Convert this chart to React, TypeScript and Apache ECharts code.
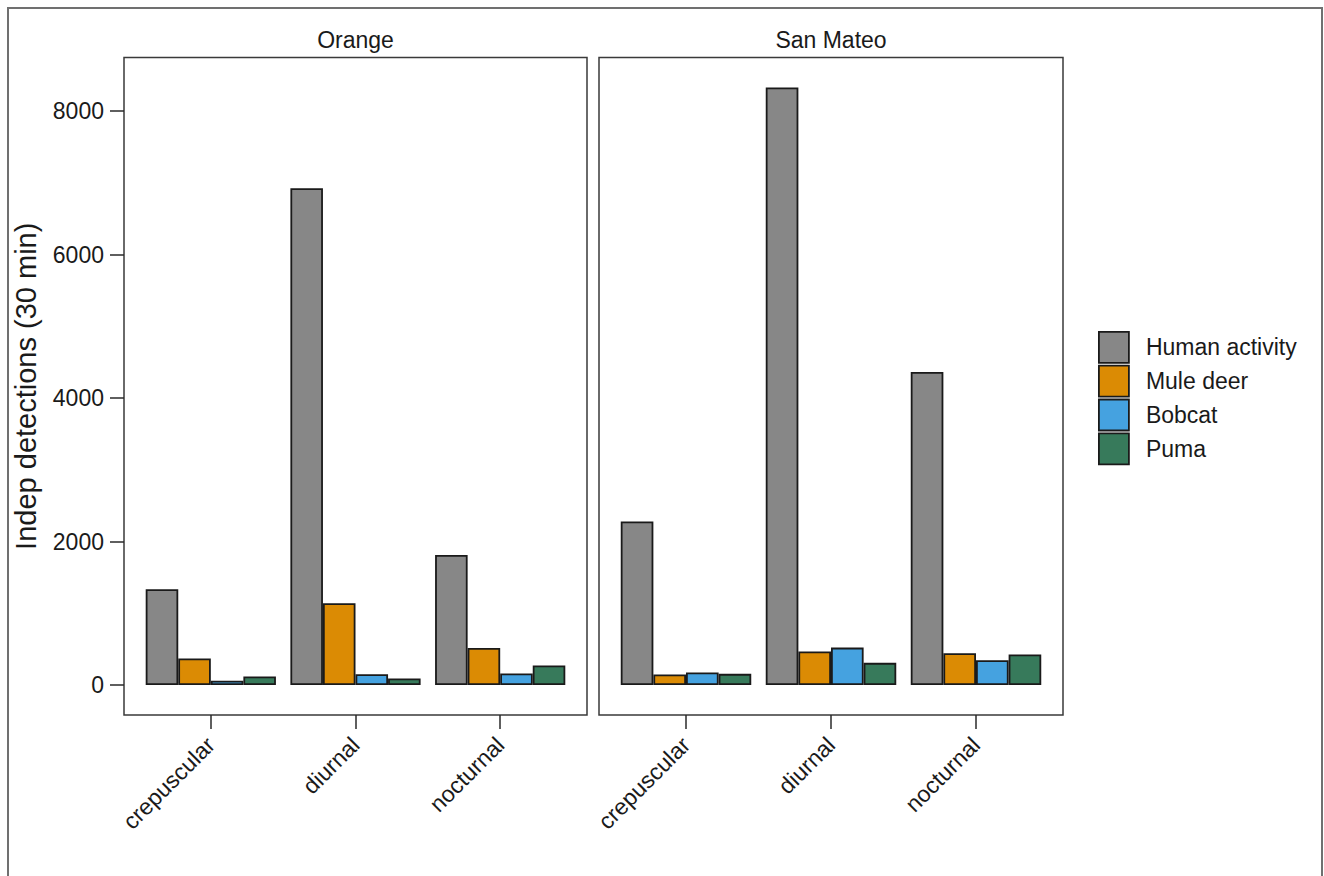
import React, { useEffect, useRef } from "react";
import * as echarts from "echarts";

const categories = ["crepuscular", "diurnal", "nocturnal"];
const species = ["Human activity", "Mule deer", "Bobcat", "Puma"];
const counties = ["Orange", "San Mateo"];
const speciesColors = ["#878787", "#DB8B04", "#45A2E0", "#377A5B"];

const orangeHuman = [1336, 6925, 1815];
const orangeMuleDeer = [371, 1140, 518];
const orangeBobcat = [60, 153, 162];
const orangePuma = [121, 93, 273];

const sanMateoHuman = [2280, 8330, 4365];
const sanMateoMuleDeer = [148, 468, 444];
const sanMateoBobcat = [176, 523, 347];
const sanMateoPuma = [157, 310, 426];

const yTicks = [0, 2000, 4000, 6000, 8000];
const yTitle = "Indep detections (30 min)";

const countyValues = [
  [orangeHuman, orangeMuleDeer, orangeBobcat, orangePuma],
  [sanMateoHuman, sanMateoMuleDeer, sanMateoBobcat, sanMateoPuma],
];

const FONT = "'Liberation Sans', Arial, Helvetica, sans-serif";
const INK = "#1a1a1a";

export default function App() {
  const ref = useRef<HTMLDivElement>(null);

  useEffect(() => {
    if (!ref.current) return;
    const chart = echarts.init(ref.current, undefined, { renderer: "svg" });

    const allVals = countyValues.flat(2);
    const dataMax = Math.max(...allVals);
    const yMin = -0.05 * dataMax;
    const yMax = 1.05 * dataMax;
    const n = categories.length;
    const xMin = 1 - 0.6;
    const xMax = n + 0.6;
    const xPos = categories.map((_, i) => i + 1);

    const panels = [
      { left: 124, width: 463 },
      { left: 599, width: 464 },
    ];
    const top = 57.5;
    const height = 657.5;

    const grids = panels.map((p) => ({
      left: p.left,
      top,
      width: p.width,
      height,
      show: true,
      borderColor: "#3a3a3a",
      borderWidth: 1.5,
      backgroundColor: "transparent",
      containLabel: false,
    }));

    const xAxes = panels.map((_, gi) => ({
      type: "value",
      gridIndex: gi,
      position: "bottom",
      min: xMin,
      max: xMax,
      axisLine: { show: false, onZero: false },
      splitLine: { show: false },
      axisTick: {
        show: true,
        customValues: xPos,
        length: 14,
        inside: false,
        lineStyle: { color: "#2a2a2a", width: 1.5 },
      },
      axisLabel: {
        show: true,
        customValues: xPos,
        rotate: 45,
        margin: 26,
        fontSize: 23,
        fontFamily: FONT,
        color: INK,
        formatter: (v: number) => categories[Math.round(v) - 1] ?? "",
      },
    }));

    const yAxes = panels.map((_, gi) => ({
      type: "value",
      gridIndex: gi,
      position: "left",
      min: yMin,
      max: yMax,
      axisLine: { show: false, onZero: false },
      splitLine: { show: false },
      axisTick: {
        show: gi === 0,
        customValues: yTicks,
        length: 14,
        inside: false,
        lineStyle: { color: "#2a2a2a", width: 1.5 },
      },
      axisLabel: {
        show: gi === 0,
        customValues: yTicks,
        margin: 20,
        fontSize: 23,
        fontFamily: FONT,
        color: INK,
        formatter: (v: number) => String(v),
      },
      name: gi === 0 ? yTitle : "",
      nameLocation: "middle",
      nameRotate: 90,
      nameGap: 84,
      nameTextStyle: { fontSize: 29, fontFamily: FONT, color: INK },
    }));

    const series: any[] = [];
    counties.forEach((county, gi) => {
      species.forEach((sp, si) => {
        series.push({
          type: "bar",
          name: sp,
          xAxisIndex: gi,
          yAxisIndex: gi,
          barCategoryGap: "10%",
          barGap: "0%",
          itemStyle: {
            color: speciesColors[si],
            borderColor: INK,
            borderWidth: 1.8,
          },
          emphasis: { disabled: true },
          data: countyValues[gi][si].map((v, i) => [xPos[i], v]),
        });
      });
    });

    const stripTexts = counties.map((c, gi) => ({
      type: "text",
      x: panels[gi].left + panels[gi].width / 2,
      y: 40,
      style: {
        text: c,
        fontSize: 23,
        fontFamily: FONT,
        fill: INK,
        textAlign: "center",
        textVerticalAlign: "middle",
      },
    }));

    chart.setOption({
      animation: false,
      backgroundColor: "#ffffff",
      grid: grids,
      xAxis: xAxes,
      yAxis: yAxes,
      legend: {
        orient: "vertical",
        left: 1098,
        top: 331,
        padding: 0,
        itemWidth: 30,
        itemHeight: 31,
        itemGap: 1,
        icon: "rect",
        selectedMode: false,
        data: species,
        itemStyle: { borderColor: INK, borderWidth: 1.8 },
        textStyle: {
          fontSize: 23,
          fontFamily: FONT,
          color: INK,
          padding: [0, 0, 0, 12],
        },
      },
      graphic: [
        {
          type: "rect",
          shape: { x: 8, y: 8, width: 1314, height: 1000 },
          style: { fill: "none", stroke: "#707070", lineWidth: 2 },
          silent: true,
        },
        ...stripTexts,
      ],
      series,
    });

    return () => chart.dispose();
  }, []);

  return (
    <div
      ref={ref}
      style={{ position: "fixed", left: 0, top: 0, width: 1324, height: 876 }}
    />
  );
}
